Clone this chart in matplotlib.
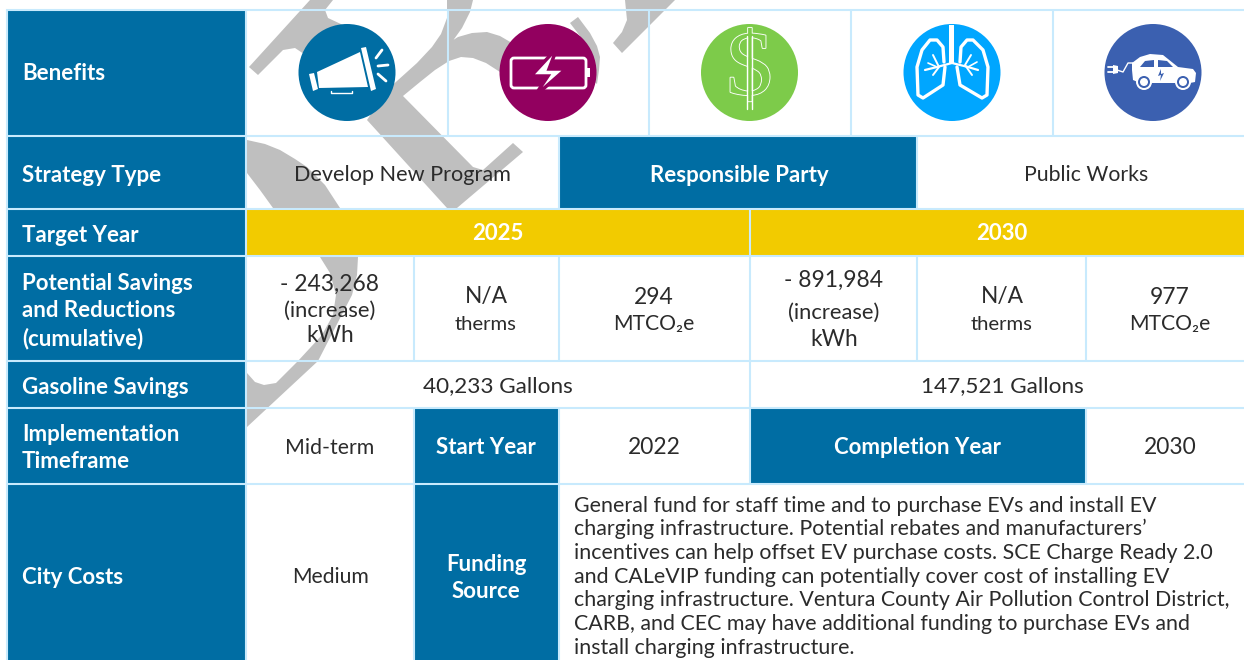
import matplotlib
matplotlib.use('Agg')
import matplotlib.pyplot as plt
import matplotlib.patheffects as pe
from matplotlib.patches import Rectangle, Polygon, Circle, FancyBboxPatch

BLUE = '#006DA3'
LINE = '#C8EAFD'
YELLOW = '#F2CB00'
GRAY = '#BFBFBF'
INK = '#2B2B2B'
CAR = '#3B60B0'
PURPLE = '#92005F'
GREEN = '#7DCB4A'

# rows and columns of the table, in pixels of the picture
row_y = [10, 136, 209, 256, 361, 408, 484, 661]
icon_x = [246, 448, 649, 851, 1053, 1245]
row_heads = ['Benefits', 'Strategy Type', 'Target Year',
             'Potential Savings\nand Reductions\n(cumulative)', 'Gasoline Savings',
             'Implementation\nTimeframe', 'City Costs']
years = ['2025', '2030']
funding_text = ['General fund for staff time and to purchase EVs and install EV',
                'charging infrastructure. Potential rebates and manufacturers’',
                'incentives can help offset EV purchase costs. SCE Charge Ready 2.0',
                'and CALeVIP funding can potentially cover cost of installing EV',
                'charging infrastructure. Ventura County Air Pollution Control District,',
                'CARB, and CEC may have additional funding to purchase EVs and',
                'install charging infrastructure.']
funding_y = [506, 529, 553, 577, 600, 624, 648]

# pieces of the grey watermark
watermark = [
    [(310, 0), (333, 0), (325, 10), (328, 18), (343, 25), (347, 60), (310, 58), (295, 48), (283, 50), (258, 75), (249, 67)],
    [(447, 0), (473, 0), (470, 12), (462, 28), (452, 42), (442, 52), (447, 44), (458, 37), (472, 33), (487, 32), (500, 36),
     (512, 43), (530, 60), (510, 78), (500, 72), (486, 63), (473, 58), (461, 57), (449, 61), (435, 70), (420, 82), (403, 96),
     (473, 167), (483, 170), (513, 143), (523, 152), (457, 208), (447, 208), (367, 120), (387, 90), (417, 63),
     (432, 47), (441, 34), (447, 18)],
    [(570, 23), (578, 17), (590, 33), (597, 46), (600, 57), (599, 70), (597, 84), (580, 70), (587, 50), (580, 36)],
    [(625, 0), (675, 0), (622, 53), (613, 43), (622, 32), (627, 20)],
    [(247, 140), (265, 144), (280, 150), (295, 159), (307, 167), (325, 185), (340, 208), (273, 208), (260, 190), (247, 173)],
    [(320, 257), (358, 257), (357, 275), (352, 295), (335, 328), (318, 361), (247, 427), (247, 373), (255, 382), (264, 385),
     (276, 383), (298, 361), (322, 335), (333, 315), (336, 295), (330, 273)],
]

fig = plt.figure(figsize=(12.44, 6.6), dpi=100)
ax = fig.add_axes([0, 0, 1, 1])
ax.set_xlim(0, 1244)
ax.set_ylim(660, 0)
ax.axis('off')


def cell(x0, y0, x1, y1, color):
    ax.add_patch(Rectangle((x0, y0), x1 - x0, y1 - y0, fc=color, ec='none', zorder=2))


def body(x, y, s, size=16.0):
    ax.text(x, y + 1, s, ha='center', va='center', color=INK, fontsize=size, family=['Lato', 'DejaVu Sans'],
            zorder=6, parse_math=False)


def head(x, y, s, ha='center', size=16.0):
    ax.text(x, y + 1, s, ha=ha, va='center', color='white', fontsize=size, family='Lato', weight='bold',
            linespacing=1.37, zorder=6, parse_math=False)


def vline(x, y0, y1):
    ax.plot([x, x], [y0, y1], color=LINE, lw=1.5, zorder=4, solid_capstyle='butt')


for piece in watermark:
    ax.add_patch(Polygon(piece, closed=True, fc=GRAY, ec='none', zorder=1))

# left column and the other filled cells
cell(8, 10, 246, 661, BLUE)
cell(559, 136, 917, 209, BLUE)
cell(246, 209, 1245, 256, YELLOW)
cell(414, 408, 559, 484, BLUE)
cell(750, 408, 1086, 484, BLUE)
cell(414, 484, 559, 661, BLUE)

# grid
for y in row_y[:-1]:
    ax.plot([7, 1244], [y, y], color=LINE, lw=1.5, zorder=4)
vline(7, 10, 660)
vline(246, 10, 660)
for x in icon_x[1:5]:
    vline(x, 10, 136)
vline(559, 136, 209)
vline(917, 136, 209)
vline(750, 209, 484)
for x in [414, 559, 917, 1086]:
    vline(x, 256, 361)
for x in [414, 559, 1086]:
    vline(x, 408, 484)
for x in [414, 559]:
    vline(x, 484, 660)

# row titles
head_y = [73, 174, 234, 310, 386, 447, 577]
for y, s in zip(head_y, row_heads):
    head(22, y, s, ha='left')

head(739, 174, 'Responsible Party')
body(402, 174, 'Develop New Program', 15.6)
body(1086, 174, 'Public Works', 15.3)
head(498, 233, years[0])
head(1002, 233, years[1])

body(330, 283, '- 243,268', 16.4)
body(330, 310, '(increase)', 15.8)
body(330, 335, 'kWh', 16.3)
body(486, 296, 'N/A', 16.4)
body(486, 323, 'therms', 14.6)
body(654, 296, '294', 16.4)
body(654, 323, 'MTCO₂e', 15.2)
body(834, 279, '- 891,984', 16.4)
body(834, 312, '(increase)', 15.8)
body(834, 339, 'kWh', 16.3)
body(1002, 296, 'N/A', 16.4)
body(1002, 323, 'therms', 14.6)
body(1170, 296, '977', 16.4)
body(1170, 323, 'MTCO₂e', 15.2)
body(498, 385, '40,233 Gallons', 16.2)
body(1002, 385, '147,521 Gallons', 16.2)
body(330, 447, 'Mid-term', 15.3)
head(486, 447, 'Start Year')
body(654, 447, '2022', 16.4)
head(918, 447, 'Completion Year')
body(1170, 447, '2030', 16.4)
body(330, 576, 'Medium', 15.2)
head(486, 577, 'Funding\nSource')
for y, s in zip(funding_y, funding_text):
    ax.text(574, y, s, ha='left', va='center', color=INK, fontsize=15.4, family='Lato', zorder=6)


# icons
def disc(x, color):
    ax.add_patch(Circle((x, 72.5), 48.5, fc=color, ec='none', zorder=3))


def white_poly(pts):
    ax.add_patch(Polygon(pts, closed=True, fc='white', ec='none', zorder=5))


def white_line(pts, lw=2.0):
    ax.plot([p[0] for p in pts], [p[1] for p in pts], color='white', lw=lw, zorder=5,
            solid_capstyle='round', solid_joinstyle='round')


disc(347, BLUE)
white_poly([(317, 72), (360, 52), (368, 87), (319, 88)])
white_poly([(361, 48), (366, 47), (376, 89), (371, 91)])
white_poly([(309, 74), (314, 73), (318, 89), (313, 91)])
white_line([(376, 58), (382, 50)])
white_line([(378, 66), (388, 65)])
white_line([(378, 74), (386, 81)])
white_line([(331, 91), (331, 93), (352, 93), (352, 91)], 1.0)

disc(548, PURPLE)
ax.add_patch(FancyBboxPatch((511, 58), 75, 30, boxstyle='round,pad=0,rounding_size=3', fc='none', ec='white',
                            lw=2.0, zorder=5))
white_poly([(587, 68), (590, 68), (590, 77), (587, 77)])
ax.add_patch(Polygon([(557, 48), (531, 76), (548, 76), (534, 97), (566, 69), (549, 69)], closed=True, fc='white',
                     ec=PURPLE, lw=2.5, zorder=5))

disc(749.5, GREEN)
ax.text(749.5, 72, '$', ha='center', va='center', fontsize=66, family='Liberation Serif', color=GREEN,
        zorder=5, parse_math=False, path_effects=[pe.withStroke(linewidth=1.3, foreground='white')])
white_line([(746.7, 36), (746.7, 109)], 1.0)
white_line([(751.7, 36), (751.7, 109)], 1.0)

disc(952, '#00A6FF')
white_poly([(949, 25), (954.3, 25), (954.3, 63), (949, 63)])
white_line([(944, 62), (943, 47), (937, 40), (930, 40), (922, 50), (917, 67), (918, 95), (923, 98), (943, 85),
            (945, 67)], 2.4)
white_line([(960, 62), (961, 47), (967, 40), (973, 40), (983, 50), (988, 67), (987, 95), (982, 98), (960, 85),
            (957, 67)], 2.4)
white_line([(925, 70), (937, 67), (952, 63), (968, 67), (978, 70)], 1.6)
white_line([(933, 55), (939, 67), (933, 75)], 1.4)
white_line([(971, 55), (965, 65), (972, 75)], 1.4)
white_line([(928, 63), (937, 67)], 1.2)
white_line([(977, 62), (968, 67)], 1.2)

disc(1153, CAR)
white_poly([(1132, 70), (1132, 63), (1140, 57), (1150, 54), (1163, 55), (1178, 67), (1193, 69), (1196, 73), (1195, 82),
            (1190, 83), (1140, 83), (1133, 80)])
for window in [[(1140, 67), (1145, 61), (1154, 60), (1154, 67)], [(1158, 60), (1167, 61), (1173, 67), (1158, 67)],
               [(1161, 69), (1158, 76), (1161, 75), (1160, 81), (1164, 73), (1161, 74)]]:
    ax.add_patch(Polygon(window, closed=True, fc=CAR, ec='none', zorder=5.5))
for wheel_x in [1144, 1183]:
    ax.add_patch(Circle((wheel_x, 82), 8, fc='white', ec='none', zorder=5.5))
    ax.add_patch(Circle((wheel_x, 82), 6, fc=CAR, ec='none', zorder=5.6))
    ax.add_patch(Circle((wheel_x, 82), 4, fc='white', ec='none', zorder=5.7))
white_line([(1117, 70), (1123, 72), (1128, 63), (1133, 63)], 1.0)
white_poly([(1113, 65), (1118, 66), (1118, 73), (1113, 74)])
white_line([(1108, 67), (1113, 67)], 1.3)
white_line([(1108, 72), (1113, 72)], 1.3)

fig.savefig('out.png', dpi=100)
